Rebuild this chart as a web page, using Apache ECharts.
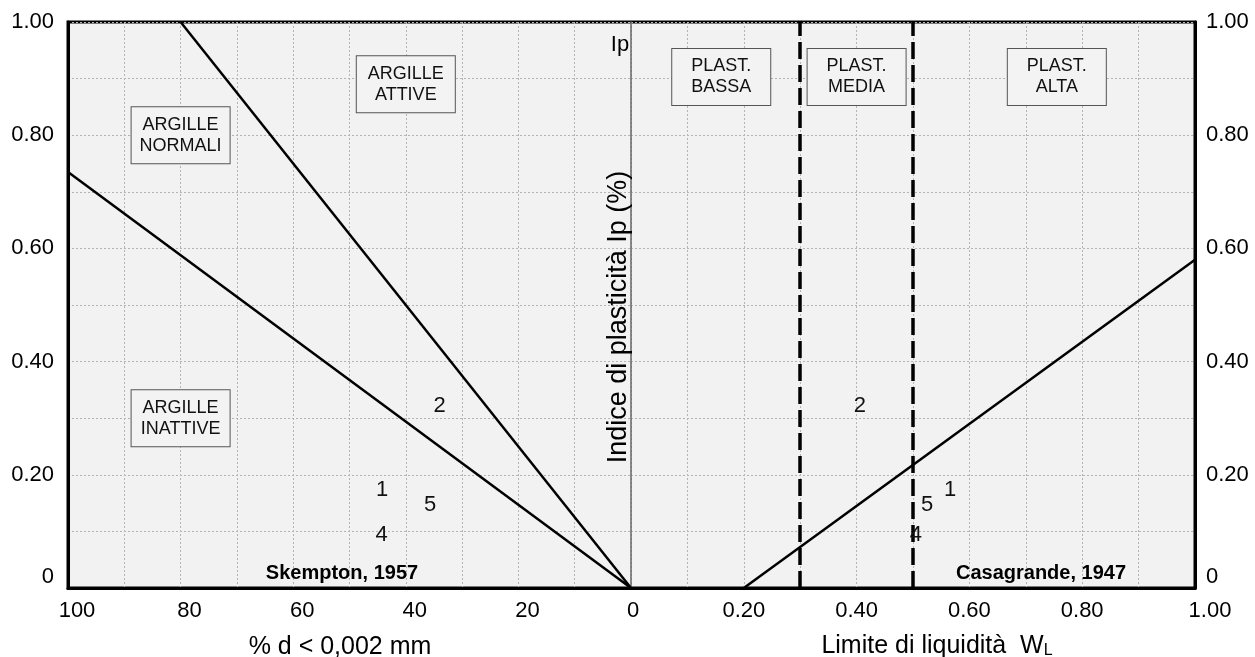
<!DOCTYPE html>
<html>
<head>
<meta charset="utf-8">
<script src="https://cdn.jsdelivr.net/npm/echarts@6/dist/echarts.min.js"></script>
<style>
html,body{margin:0;padding:0;background:#fff;}
#chart{width:1255px;height:657px;}
</style>
</head>
<body>
<div id="chart"></div>
<script>
// ---- data ----
// Skempton (1957) activity chart: clay fraction % d < 0,002 mm vs Ip
const activeLine = [[80, 1.0], [0, 0]];          // boundary attive / normali
const inactiveLine = [[100, 0.735], [0, 0]];     // boundary normali / inattive
// Casagrande (1947) A-line: Ip vs WL
const aLine = [[0.20, 0], [1.00, 0.58]];
const plastBounds = [0.30, 0.50];                // bassa | media | alta

// samples
const sampleIds = ['1', '2', '4', '5'];
const sampleIp = [0.173, 0.322, 0.094, 0.147];
const sampleClay = [44.2, 34.0, 44.3, 35.7];
const sampleWL = [0.566, 0.406, 0.505, 0.525];

// zone labels
const skemptonZones = ['ARGILLE\nNORMALI', 'ARGILLE\nATTIVE', 'ARGILLE\nINATTIVE'];
const skemptonZoneClay = [80, 40, 80];
const skemptonZoneIp = [0.80, 0.89, 0.30];
const casaZones = ['PLAST.\nBASSA', 'PLAST.\nMEDIA', 'PLAST.\nALTA'];
const casaZoneWL = [0.16, 0.40, 0.755];
const casaZoneIp = [0.903, 0.903, 0.903];

const FONT = 'Liberation Sans, Arial, sans-serif';
const TXT = '#000';
const AX = 22;

const chart = echarts.init(document.getElementById('chart'));

const gridLine = { show: true, lineStyle: { color: '#b4b4b4', width: 1, type: [2, 2] } };

const boxLabel = {
  show: true, position: 'inside', fontFamily: FONT, fontSize: 18, lineHeight: 21,
  color: '#111', opacity: 1, backgroundColor: '#f3f3f3', borderColor: '#555', borderWidth: 1,
  padding: [7, 8], width: 82, align: 'center', verticalAlign: 'middle'
};
const numLabel = {
  show: true, position: 'inside', fontFamily: FONT, fontSize: 22, color: '#111', opacity: 1,
  formatter: p => p.name
};

const yLabelFmt = v => v === 0 ? '{z|0}' : v.toFixed(2);
const yRich = { z: { fontFamily: FONT, fontSize: AX, color: TXT, padding: [0, 0, 22, 0] } };
const symStyle = { color: '#f2f2f2' };

const option = {
  animation: false,
  backgroundColor: '#fff',
  grid: [
    { left: 68, top: 22, width: 1127, height: 566, show: true, backgroundColor: '#f2f2f2', borderColor: '#000', borderWidth: 3, z: 0 },
    { left: 68, top: 22, width: 563, height: 566 },
    { left: 631, top: 22, width: 564, height: 566 }
  ],
  xAxis: [
    { gridIndex: 0, type: 'value', min: 0, max: 1, show: false },
    {
      gridIndex: 1, type: 'value', min: 0, max: 100, interval: 20, inverse: true,
      axisLine: { show: true, onZero: false, lineStyle: { color: '#000', width: 3 } },
      axisTick: { show: false },
      splitLine: gridLine,
      minorTick: { show: false, splitNumber: 2 },
      minorSplitLine: gridLine,
      axisLabel: {
        fontFamily: FONT, fontSize: AX, color: TXT, margin: 12,
        formatter: v => v === 0 ? '{c|0}' : '{l|' + v + '}',
        rich: {
          l: { fontFamily: FONT, fontSize: AX, color: TXT, padding: [0, 0, 0, 18] },
          c: { fontFamily: FONT, fontSize: AX, color: TXT, padding: [0, 0, 0, 4] }
        }
      }
    },
    {
      gridIndex: 2, type: 'value', min: 0, max: 1, interval: 0.2,
      axisLine: { show: true, onZero: false, lineStyle: { color: '#000', width: 3 } },
      axisTick: { show: false },
      splitLine: gridLine,
      minorTick: { show: false, splitNumber: 2 },
      minorSplitLine: gridLine,
      axisLabel: {
        fontFamily: FONT, fontSize: AX, color: TXT, margin: 12, showMaxLabel: true,
        formatter: v => v === 0 ? '' : (v === 1 ? '{r|1.00}' : v.toFixed(2)),
        rich: { r: { fontFamily: FONT, fontSize: AX, color: TXT, padding: [0, 0, 0, 30] } }
      }
    }
  ],
  yAxis: [
    { gridIndex: 0, type: 'value', min: 0, max: 1, show: false },
    {
      gridIndex: 1, type: 'value', min: 0, max: 1, interval: 0.2, position: 'left',
      axisLine: { show: true, onZero: false, lineStyle: { color: '#000', width: 3 } },
      axisTick: { show: false },
      splitLine: gridLine,
      minorTick: { show: false, splitNumber: 2 },
      minorSplitLine: gridLine,
      axisLabel: { fontFamily: FONT, fontSize: AX, color: TXT, margin: 14, formatter: yLabelFmt, rich: yRich }
    },
    {
      gridIndex: 1, type: 'value', min: 0, max: 1, interval: 0.2, position: 'right',
      axisLine: { show: true, onZero: false, lineStyle: { color: '#666', width: 1.5 } },
      axisTick: { show: false }, axisLabel: { show: false }, splitLine: { show: false }
    },
    {
      gridIndex: 2, type: 'value', min: 0, max: 1, interval: 0.2, position: 'right',
      axisLine: { show: true, onZero: false, lineStyle: { color: '#000', width: 3 } },
      axisTick: { show: false },
      splitLine: gridLine,
      minorTick: { show: false, splitNumber: 2 },
      minorSplitLine: gridLine,
      axisLabel: { fontFamily: FONT, fontSize: AX, color: TXT, margin: 11, formatter: yLabelFmt, rich: yRich }
    }
  ],
  series: [
    { type: 'line', xAxisIndex: 1, yAxisIndex: 1, data: activeLine, symbol: 'none', lineStyle: { color: '#000', width: 2.5 }, z: 3 },
    { type: 'line', xAxisIndex: 1, yAxisIndex: 1, data: inactiveLine, symbol: 'none', lineStyle: { color: '#000', width: 2.5 }, z: 3 },
    { type: 'line', xAxisIndex: 2, yAxisIndex: 3, data: aLine, symbol: 'none', lineStyle: { color: '#000', width: 2.5 }, z: 3 },
    {
      type: 'lines', coordinateSystem: 'cartesian2d', xAxisIndex: 2, yAxisIndex: 3, z: 3,
      lineStyle: { color: '#000', width: 3.5, type: [17, 6], opacity: 1 },
      data: plastBounds.map(x => ({ coords: [[x, 0], [x, 1]] }))
    },
    {
      type: 'scatter', xAxisIndex: 1, yAxisIndex: 1, symbolSize: 1, itemStyle: symStyle, z: 5,
      label: Object.assign({}, boxLabel, { formatter: p => p.name }),
      data: skemptonZones.map((n, i) => ({ name: n, value: [skemptonZoneClay[i], skemptonZoneIp[i]] }))
    },
    {
      type: 'scatter', xAxisIndex: 2, yAxisIndex: 3, symbolSize: 1, itemStyle: symStyle, z: 5,
      label: Object.assign({}, boxLabel, { formatter: p => p.name }),
      data: casaZones.map((n, i) => ({ name: n, value: [casaZoneWL[i], casaZoneIp[i]] }))
    },
    {
      type: 'scatter', xAxisIndex: 1, yAxisIndex: 1, symbolSize: 1, itemStyle: symStyle, z: 5,
      label: numLabel,
      data: sampleIds.map((n, i) => ({ name: n, value: [sampleClay[i], sampleIp[i]] }))
    },
    {
      type: 'scatter', xAxisIndex: 2, yAxisIndex: 3, symbolSize: 1, itemStyle: symStyle, z: 5,
      label: numLabel,
      data: sampleIds.map((n, i) => ({ name: n, value: [sampleWL[i], sampleIp[i]] }))
    }
  ],
  graphic: [
    { type: 'text', x: 340, y: 647, z: 10, style: { text: '% d < 0,002 mm', fontFamily: FONT, fontSize: 25, fill: TXT, textAlign: 'center', textVerticalAlign: 'middle' } },
    { type: 'text', x: 937, y: 645, z: 10, style: {
        text: '{t|Limite di liquidità  W}{s|L}', textAlign: 'center', textVerticalAlign: 'middle',
        rich: {
          t: { fontFamily: FONT, fontSize: 25, fill: TXT, lineHeight: 28, verticalAlign: 'bottom' },
          s: { fontFamily: FONT, fontSize: 16, fill: TXT, lineHeight: 28, verticalAlign: 'bottom' }
        } } },
    { type: 'text', x: 619, y: 317, rotation: Math.PI / 2, z: 10, style: { text: 'Indice di plasticità Ip (%)', fontFamily: FONT, fontSize: 27, fill: TXT, textAlign: 'center', textVerticalAlign: 'middle' } },
    { type: 'text', x: 620, y: 45, z: 10, style: { text: 'Ip', fontFamily: FONT, fontSize: 22, fill: TXT, textAlign: 'center', textVerticalAlign: 'middle' } },
    { type: 'text', x: 342, y: 573, z: 10, style: { text: 'Skempton, 1957', fontFamily: FONT, fontSize: 20, fontWeight: 'bold', fill: TXT, textAlign: 'center', textVerticalAlign: 'middle' } },
    { type: 'text', x: 1041, y: 573, z: 10, style: { text: 'Casagrande, 1947', fontFamily: FONT, fontSize: 20, fontWeight: 'bold', fill: TXT, textAlign: 'center', textVerticalAlign: 'middle' } }
  ]
};
chart.setOption(option);
</script>
</body>
</html>
